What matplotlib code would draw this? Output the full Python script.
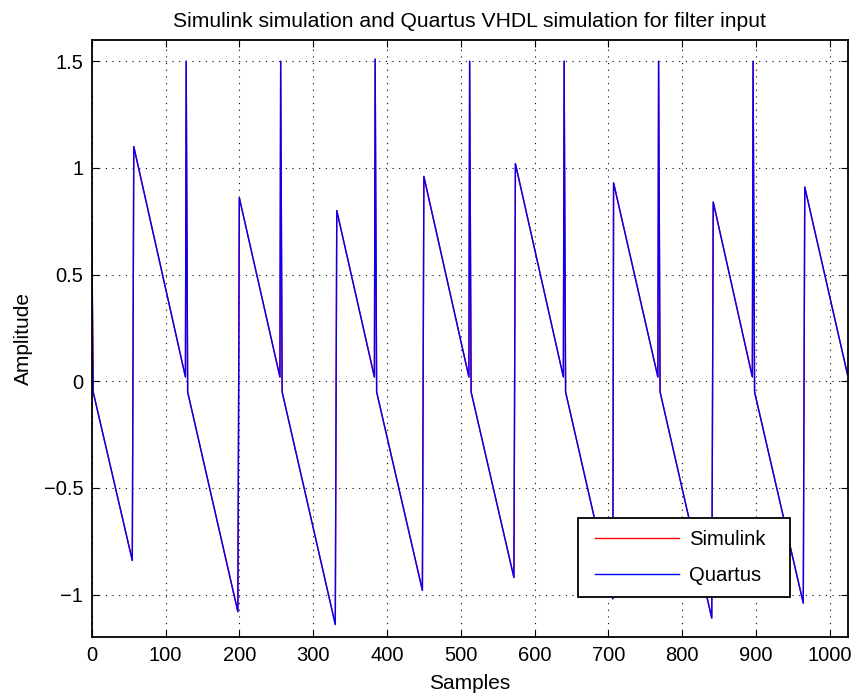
import matplotlib
matplotlib.use("Agg")
import matplotlib.pyplot as plt
from matplotlib.legend_handler import HandlerLine2D

plt.rcParams['font.family'] = ['Liberation Sans', 'DejaVu Sans']

# Breakpoints of the filter input waveform (sample index, amplitude)
quartus_x = [0, 2, 55, 57, 127, 128, 130, 198, 200, 255, 256, 258, 330, 332,
             383, 384, 386, 448, 450, 511, 512, 514, 572, 574, 639, 640, 642,
             706, 707, 767, 768, 770, 840, 842, 895, 896, 898, 964, 966, 1024]
quartus_y = [0.75, -0.05, -0.84, 1.10, 0.02, 1.50, -0.05, -1.08, 0.86, 0.02,
             1.50, -0.05, -1.14, 0.80, 0.02, 1.51, -0.05, -0.98, 0.96, 0.02,
             1.50, -0.05, -0.92, 1.02, 0.02, 1.50, -0.05, -1.02, 0.93, 0.02,
             1.50, -0.05, -1.11, 0.84, 0.02, 1.50, -0.05, -1.04, 0.91, 0.03]

simulink_x = list(quartus_x)
simulink_y = list(quartus_y)

x_ticks = [0, 100, 200, 300, 400, 500, 600, 700, 800, 900, 1000]
y_ticks = [-1, -0.5, 0, 0.5, 1, 1.5]
y_tick_labels = ['\u22121', '\u22120.5', '0', '0.5', '1', '1.5']

fig = plt.figure(figsize=(8.57, 7.00), dpi=100)
ax = fig.add_axes([0.107, 0.0896, 0.882, 0.8534])

ax.plot(simulink_x, simulink_y, color='#ff0000', lw=1.0, label='Simulink')
ax.plot(quartus_x, quartus_y, color='#0000ff', lw=1.0, label='Quartus')

ax.set_xlim(0, 1024)
ax.set_ylim(-1.2, 1.6)
ax.set_xticks(x_ticks)
ax.set_yticks(y_ticks)
ax.set_yticklabels(y_tick_labels)
ax.tick_params(direction='in', length=5, width=0.8, top=True, right=True,
               labelsize=14.5, pad=6)
ax.grid(True, color='black', linestyle=(0, (1, 5)), linewidth=0.8)
for s in ax.spines.values():
    s.set_linewidth(1.3)

ax.set_title('Simulink simulation and Quartus VHDL simulation for filter input',
             fontsize=15.2, pad=9)
ax.set_xlabel('Samples', fontsize=15, labelpad=7)
ax.set_ylabel('Amplitude', fontsize=15, labelpad=8)

leg = ax.legend(loc='lower left', bbox_to_anchor=(0.643, 0.067, 0.281, 0.131),
                mode='expand', fontsize=14.6, fancybox=False, framealpha=1,
                edgecolor='black', handlelength=4.4, handletextpad=0.5,
                borderpad=0.6, labelspacing=0.82, borderaxespad=0,
                handler_map={plt.Line2D: HandlerLine2D(xpad=0.25)})
leg.get_frame().set_linewidth(1.3)

fig.savefig('out.png', dpi=100)
